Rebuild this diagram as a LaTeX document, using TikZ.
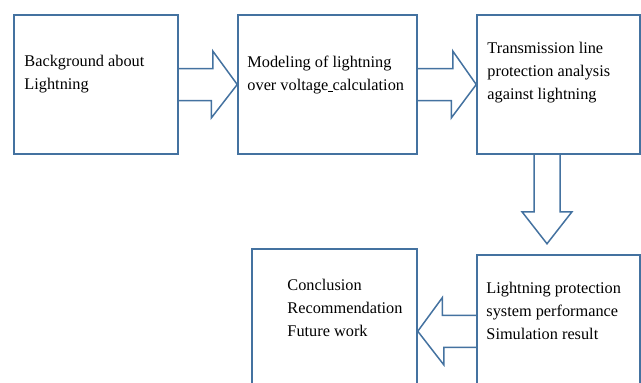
\documentclass[tikz,border=0pt]{standalone}
\usepackage{fontspec}
\setmainfont{Liberation Serif}
\usetikzlibrary{calc}
\definecolor{boxblue}{RGB}{68,114,160}
\tikzset{
box/.style={draw=boxblue,line width=1.5pt,rectangle,inner sep=0pt},
lbl/.style={inner sep=0pt,align=left,font=\fontsize{16.3}{22.8}\selectfont},
barrow/.style={draw=boxblue,line width=1.5pt,line join=miter}
}
\begin{document}
\begin{tikzpicture}[x=1pt,y=-1pt]
\clip(0,0)rectangle(641,383);
\useasboundingbox(0,0)rectangle(641,383);
\node[box,minimum width=164pt,minimum height=139pt](b1)at(96,84.5){};
\node[box,minimum width=179pt,minimum height=139pt](b2)at(327.5,84.5){};
\node[box,minimum width=163pt,minimum height=139pt](b3)at(558.5,84.5){};
\node[box,minimum width=165pt,minimum height=160pt](b4)at(334.5,329){};
\node[box,minimum width=163pt,minimum height=150pt](b5)at(558.5,330){};
\node[lbl,anchor=base west](t1)at($(b1.north west)+(11,75)$){Background about\\Lightning};
\node[lbl,anchor=base west](t2)at($(b2.north west)+(10,76)$){Modeling of lightning\\over voltage\underline{\ }calculation};
\node[lbl,anchor=base west](t3)at($(b3.north west)+(11,85)$){Transmission line\\protection analysis\\against lightning};
\node[lbl,anchor=base west](t4)at($(b4.north west)+(36,88)$){Conclusion\\Recommendation\\Future work};
\node[lbl,anchor=base west](t5)at($(b5.north west)+(10,85)$){Lightning protection\\system performance\\Simulation result};
\draw[barrow]($(b1.east)+(0,-16)$)--++(34,0)--++(0,-17.5)--(b2.west)--++(-26,33.5)--++(0,-17.5)--($(b1.east)+(0,16)$);
\draw[barrow]($(b2.east)+(0,-16)$)--++(35,0)--++(0,-17.5)--(b3.west)--++(-25,33.5)--++(0,-17.5)--($(b2.east)+(0,16)$);
\draw[barrow]($(b3.south)+(-24.5,0)$)--++(0,57)--++(-12,0)--++(25,32)--++(25,-32)--++(-12,0)--++(0,-57);
\coordinate(a4)at($(b5.north west)+(0,77)$);
\draw[barrow]($(a4)+(0,-16)$)--++(-34,0)--++(0,-17.5)--(b4.east|-a4)--++(26,33.5)--++(0,-17.5)--($(a4)+(0,16)$);
\end{tikzpicture}
\end{document}
